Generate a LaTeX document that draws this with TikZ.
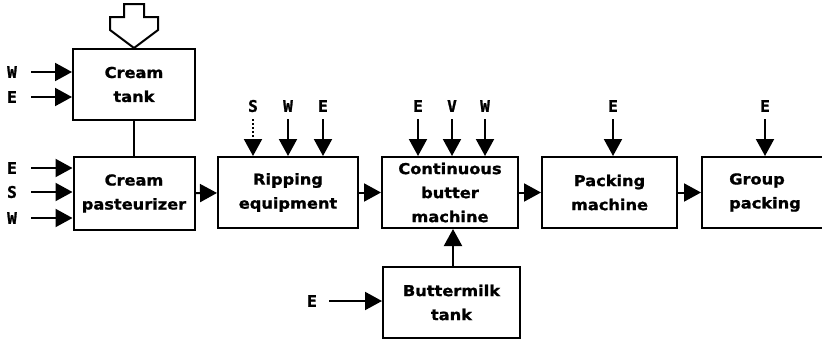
\documentclass[tikz,border=0pt]{standalone}
\usepackage{fontspec}
\newfontfamily\plantfont[FakeStretch=1.08, FakeBold=1.2]{DejaVu Sans Bold}
\newfontfamily\feedfont[FakeBold=1.5]{DejaVu Sans Mono Bold}
\usetikzlibrary{arrows.meta}
\tikzset{
  stage/.style={draw, line width=2pt, minimum height=71pt, inner xsep=0pt, align=center,
    font=\plantfont\fontsize{15}{24}\selectfont},
  lbl/.style={font=\feedfont\fontsize{16}{18}\selectfont, inner sep=3pt},
  feed/.style={line width=2pt, -{Triangle[length=17pt,width=18pt]}},
}
\begin{document}
\begin{tikzpicture}[x=1pt, y=-1pt]
\useasboundingbox (0,0) rectangle (822,340);
\clip (0,0) rectangle (822,340);

% Process boxes
\node[stage, minimum width=122pt] (tank) at (134,84.5) {Cream\\tank};
\node[stage, minimum width=121pt, minimum height=73pt] (past) at (134,193.5) {Cream\\pasteurizer};
\node[stage, minimum width=140pt] (ripe) at (288,192.5) {Ripping\\equipment};
\node[stage, minimum width=136pt] (churn) at (450,192.5) {Continuous\\butter\\machine};
\node[stage, minimum width=137pt] (milk) at (451.5,302.5) {Buttermilk\\tank};
\node[stage, minimum width=135pt] (pack) at (609.5,192.5) {Packing\\machine};
\node[stage, minimum width=126pt, align=left] (group) at (765,192.5) {Group\\packing};

% Cream supply (hollow arrow)
\draw[line width=2pt, fill=white] (124,4) -- (144,4) -- (144,17) -- (158,17) -- (158,30)
  -- (tank.north) -- (110,30) -- (110,17) -- (124,17) -- cycle;

% Main flow
\draw[line width=2pt] (tank) -- (past);
\draw[feed] (past) -- (ripe);
\draw[feed] (ripe) -- (churn);
\draw[feed] (churn) -- (pack);
\draw[feed] (pack) -- (group);
\draw[feed] (milk.north -| 453,0) -- (churn.south -| 453,0);

% Side inputs
\foreach \n/\t/\y in {tw/W/72, te/E/97} {
  \node[lbl] (\n) at (12,\y) {\t};
  \draw[feed, shorten <=11pt] (\n) -- (\n -| tank.west);
}
\foreach \n/\t/\y in {pe/E/168, ps/S/192, pw/W/218} {
  \node[lbl] (\n) at (12,\y) {\t};
  \draw[feed, shorten <=11pt] (\n) -- (\n -| past.west);
}
\node[lbl] (me) at (312,301) {E};
\draw[feed, shorten <=9pt] (me) -- (me -| milk.west);

% Top inputs
\node[lbl] (rs) at (253,106) {S};
\draw[feed, dotted, shorten <=4pt] (rs) -- (rs |- ripe.north);
\foreach \n/\t/\x/\b in {rw/W/288/ripe, re/E/323/ripe,
    ce/E/418/churn, cv/V/452/churn, cw/W/485/churn,
    ke/E/613/pack, ge/E/765/group} {
  \node[lbl] (\n) at (\x,106) {\t};
  \draw[feed, shorten <=4pt] (\n) -- (\n |- \b.north);
}
\end{tikzpicture}
\end{document}
